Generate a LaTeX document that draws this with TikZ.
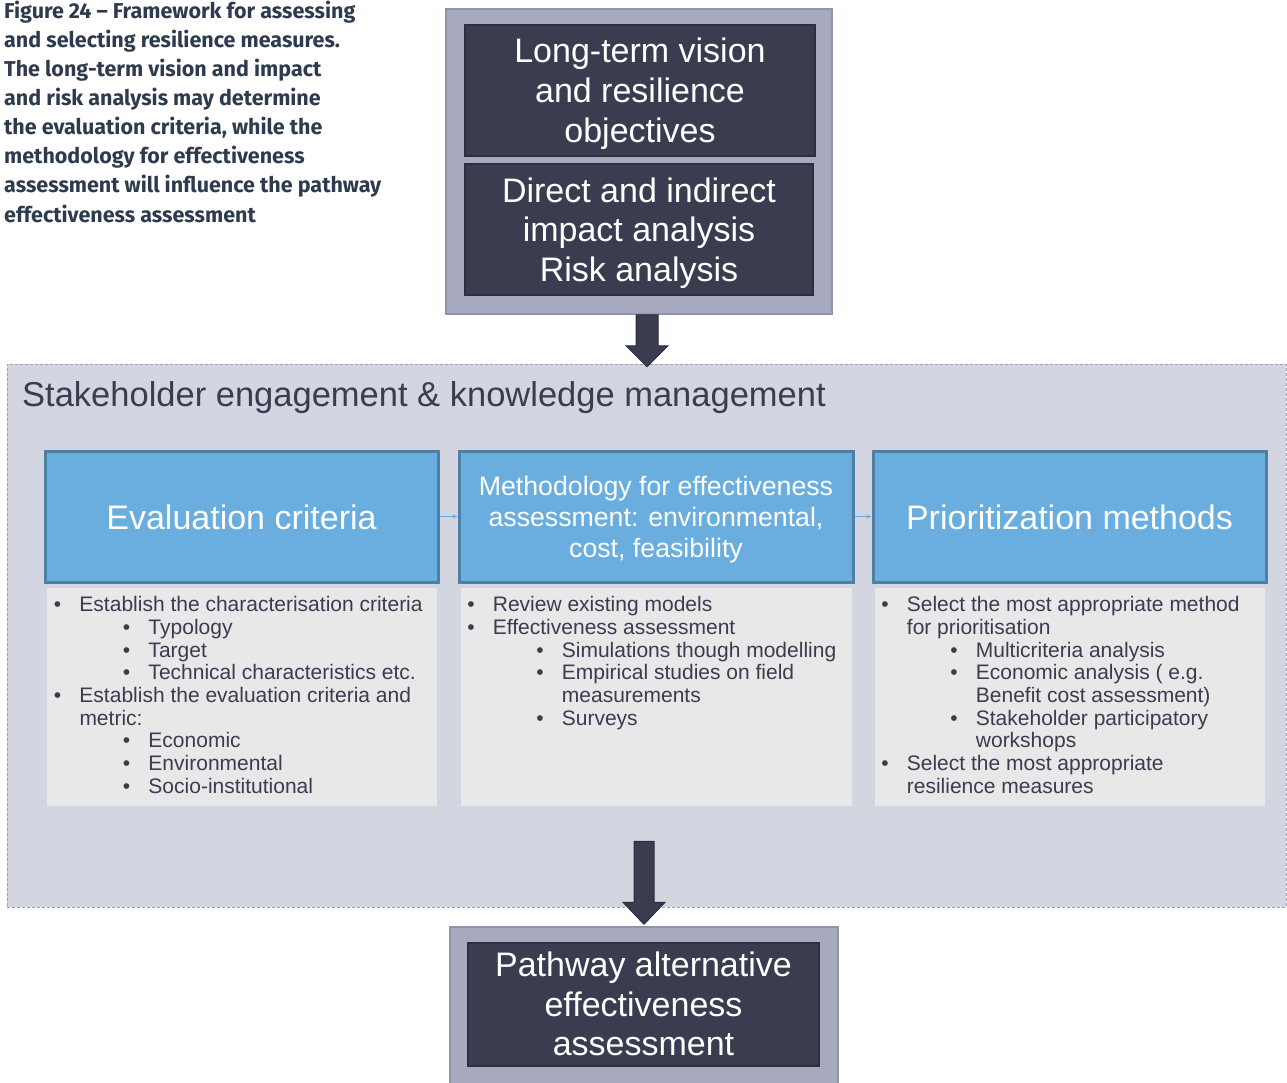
\documentclass[tikz,border=0pt]{standalone}
\usepackage{fontspec}
\setmainfont{Liberation Sans}
\newfontfamily\capfont{Fira Sans}
\usetikzlibrary{arrows.meta,calc}
\definecolor{outerfill}{HTML}{A7AABF}
\definecolor{outerline}{HTML}{8F93AD}
\definecolor{darkfill}{HTML}{3A3C4F}
\definecolor{darkline}{HTML}{2C2E3D}
\definecolor{stakefill}{HTML}{D3D5E1}
\definecolor{dashline}{HTML}{9B9EB6}
\definecolor{bluefill}{HTML}{69AEDF}
\definecolor{blueline}{HTML}{4E80A7}
\definecolor{listfill}{HTML}{E8E8E8}
\definecolor{captext}{HTML}{2E3A4E}
\definecolor{smallarrow}{HTML}{6FA8D6}
\newcommand\Lone{\llap{\textbullet\hspace{18.3pt}}}
\newcommand\Ltwo{\hspace*{69pt}\llap{\textbullet\hspace{18.3pt}}}
\newcommand\Cone{}
\newcommand\Ctwo{\hspace*{69pt}}
\begin{document}
\begin{tikzpicture}[x=1pt,y=-1pt,
  outerbox/.style={rectangle, draw=outerline, fill=outerfill, line width=1.5pt, inner sep=0pt},
  darkbox/.style={rectangle, draw=darkline, fill=darkfill, line width=1.2pt, inner sep=0pt},
  stakebox/.style={rectangle, draw=dashline, fill=stakefill, line width=1pt, dash pattern=on 3pt off 2pt, inner sep=0pt},
  bluebox/.style={rectangle, draw=blueline, fill=bluefill, line width=3pt, inner sep=0pt, minimum height=131pt},
  listbox/.style={rectangle, fill=listfill, inner sep=0pt, minimum height=218pt},
  bigtxt/.style={text=white, font=\fontsize{34}{39.7}\selectfont, align=center, inner sep=0pt, anchor=base},
  midtxt/.style={text=white, font=\fontsize{26.7}{31}\selectfont, align=center, inner sep=0pt, anchor=base},
  listtxt/.style={text=darkfill, font=\fontsize{21}{22.7}\selectfont, align=left, inner sep=0pt, anchor=base west},
  blockarrow/.style={fill=darkfill, draw=darkline, line width=1pt, line join=miter},
  linkarrow/.style={draw=smallarrow, line width=0.8pt, -{Stealth[length=5pt,width=4pt]}}
]
\useasboundingbox (0,0) rectangle (1287,1082);

% caption (base anchor = last line's baseline)
\node[anchor=base west, inner sep=0pt, align=left, text=captext,
      font=\capfont\bfseries\fontsize{21.5}{29.1}\selectfont] (caption) at (4,222)
  {Figure 24 – Framework for assessing\\
   and selecting resilience measures.\\
   The long-term vision and impact\\
   and risk analysis may determine\\
   the evaluation criteria, while the\\
   methodology for effectiveness\\
   assessment will influence the pathway\\
   effectiveness assessment};

% stakeholder container
\node[stakebox, minimum width=1279pt, minimum height=543pt] (stake) at (646.5,635.5) {};
\node[anchor=base west, inner sep=0pt, text=darkfill, font=\fontsize{34.5}{40}\selectfont] (staketitle) at (22,406.7)
  {Stakeholder engagement \& knowledge management};

% top box
\node[outerbox, minimum width=386pt, minimum height=305pt] (top) at (639,161.5) {};
\node[darkbox, minimum width=350pt, minimum height=131pt] (vision) at (640,90.5) {};
\node[darkbox, minimum width=348pt, minimum height=131pt] (impact) at (639,229.5) {};
\node[bigtxt] (visiontxt) at (640,142) {Long-term vision\\and resilience\\objectives};
\node[bigtxt] (impacttxt) at (639,281.5) {Direct and indirect\\impact analysis\\Risk analysis};

% arrow 1
\coordinate (a1) at ($(top.south)+(8,0)$);
\draw[blockarrow] ($(a1)+(-11,0)$) -- ($(a1)+(-11,31)$) -- ($(a1)+(-21,31)$) -- ($(a1)+(0,52)$)
   -- ($(a1)+(21,31)$) -- ($(a1)+(11,31)$) -- ($(a1)+(11,0)$) -- cycle;

% blue boxes
\node[bluebox, minimum width=393pt] (evalc) at (241.5,516.5) {};
\node[bluebox, minimum width=394pt] (method) at (656,516.5) {};
\node[bluebox, minimum width=393pt] (prio) at (1069.5,516.5) {};
\node[bigtxt] (evalctxt) at (241.5,529) {Evaluation criteria};
\node[midtxt] (methodtxt) at (656,557) {Methodology for effectiveness\\assessment: environmental,\\cost, feasibility};
\node[bigtxt] (priotxt) at (1069.5,529) {Prioritization methods};
\draw[linkarrow] (evalc.east) -- (method.west);
\draw[linkarrow] (method.east) -- (prio.west);

% list boxes
\node[listbox, minimum width=390pt] (evallist) at (242,697) {};
\node[listbox, minimum width=391pt] (methlist) at (656.5,697) {};
\node[listbox, minimum width=390pt] (priolist) at (1070,697) {};

\node[listtxt] (evallisttxt) at (79.3,793.3) {%
\Lone Establish the characterisation criteria\\
\Ltwo Typology\\
\Ltwo Target\\
\Ltwo Technical characteristics etc.\\
\Lone Establish the evaluation criteria and\\
\Cone metric:\\
\Ltwo Economic\\
\Ltwo Environmental\\
\Ltwo Socio-institutional};

\node[listtxt] (methlisttxt) at (492.7,725.2) {%
\Lone Review existing models\\
\Lone Effectiveness assessment\\
\Ltwo Simulations though modelling\\
\Ltwo Empirical studies on field\\
\Ctwo measurements\\
\Ltwo Surveys};

\node[listtxt] (priolisttxt) at (906.7,793.3) {%
\Lone Select the most appropriate method\\
\Cone for prioritisation\\
\Ltwo Multicriteria analysis\\
\Ltwo Economic analysis ( e.g.\\
\Ctwo Benefit cost assessment)\\
\Ltwo Stakeholder participatory\\
\Ctwo workshops\\
\Lone Select the most appropriate\\
\Cone resilience measures};

% bottom box
\node[outerbox, minimum width=388pt, minimum height=165pt] (bottom) at (644,1009.5) {};
\node[darkbox, minimum width=351pt, minimum height=123pt] (pathway) at (643.5,1004.5) {};
\node[bigtxt] (pathwaytxt) at (643.5,1055.7) {Pathway alternative\\effectiveness\\assessment};

% arrow 2
\coordinate (a2) at ($(bottom.north)+(0,-2)$);
\draw[blockarrow] ($(a2)+(-10,-83)$) -- ($(a2)+(-10,-22)$) -- ($(a2)+(-21,-22)$) -- (a2)
   -- ($(a2)+(21,-22)$) -- ($(a2)+(10,-22)$) -- ($(a2)+(10,-83)$) -- cycle;
\end{tikzpicture}
\end{document}
